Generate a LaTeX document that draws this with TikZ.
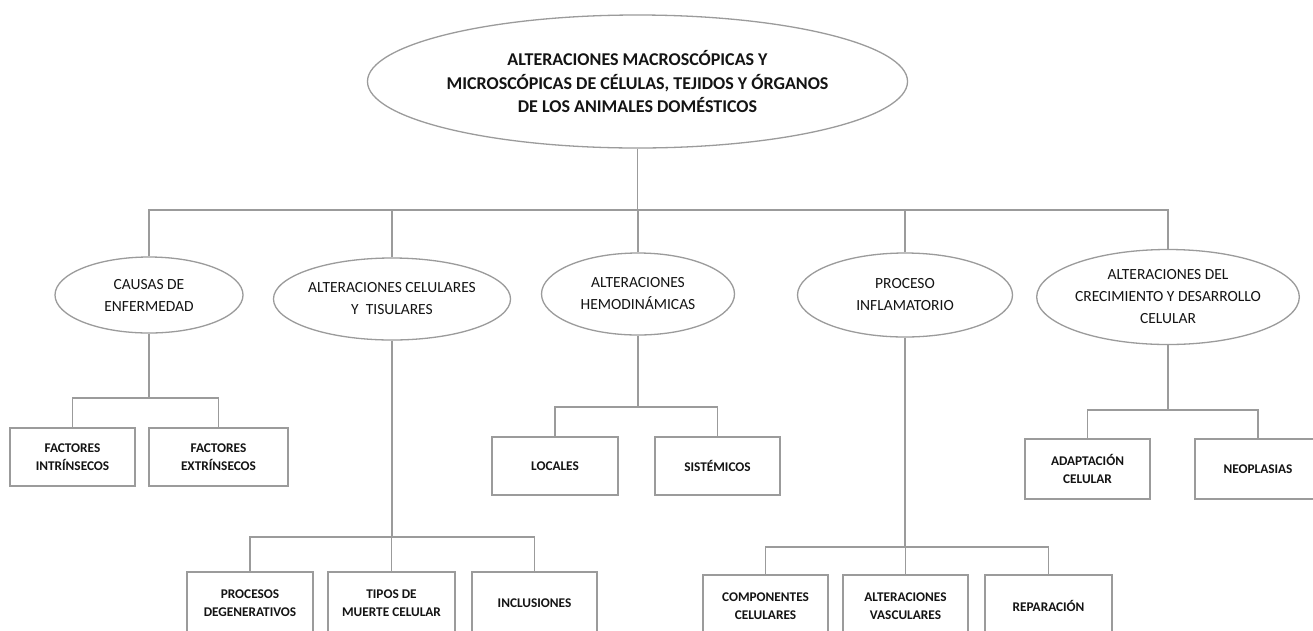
\documentclass[tikz,border=0pt]{standalone}
\usepackage{fontspec}
\setmainfont{Carlito}
\usetikzlibrary{shapes.geometric}
\definecolor{linegray}{RGB}{155,155,155}
\definecolor{txt}{RGB}{20,20,20}
\begin{document}
\begin{tikzpicture}[x=1pt,y=-1pt,
  ell/.style={ellipse, draw=linegray, line width=1.3pt, inner sep=0pt, align=center, text=txt,
    font=\fontsize{15.5}{22}\selectfont},
  mainell/.style={ell, font=\bfseries\fontsize{18}{23.5}\selectfont},
  box/.style={rectangle, draw=linegray, line width=1.3pt, inner sep=0pt, align=center, text=txt,
    font=\bfseries\fontsize{13.3}{18}\selectfont},
  conn/.style={draw=linegray, line width=1.2pt}]
\useasboundingbox (0,0) rectangle (1313,630);
\clip (0,0) rectangle (1313,630);
\fill[white] (0,0) rectangle (1313,630);

% main
\node[mainell, minimum width=535, minimum height=133] (main) at (637.5,81.5)
  {ALTERACIONES MACROSCÓPICAS Y\\MICROSCÓPICAS DE CÉLULAS, TEJIDOS Y ÓRGANOS\\DE LOS ANIMALES DOMÉSTICOS};

% level 2
\node[ell, minimum width=188, minimum height=76] (causas) at (149,295) {CAUSAS DE\\ENFERMEDAD};
\node[ell, minimum width=229, minimum height=82] (altcel) at (392,299) {ALTERACIONES CELULARES\\Y\ \ TISULARES};
\node[ell, minimum width=193, minimum height=82] (hemo) at (638,294) {ALTERACIONES\\HEMODINÁMICAS};
\node[ell, minimum width=215, minimum height=84] (proc) at (905,295) {PROCESO\\INFLAMATORIO};
\node[ell, minimum width=245, minimum height=95] (crec) at (1168,297) {ALTERACIONES DEL\\CRECIMIENTO Y DESARROLLO\\CELULAR};

% level 3
\node[box, minimum width=125, minimum height=58] (fi) at (72.5,457) {FACTORES\\INTRÍNSECOS};
\node[box, minimum width=139, minimum height=58] (fe) at (218.5,457) {FACTORES\\EXTRÍNSECOS};
\node[box, minimum width=126, minimum height=58] (loc) at (555,466) {LOCALES};
\node[box, minimum width=125, minimum height=58] (sis) at (717.5,466) {SISTÉMICOS};
\node[box, minimum width=125, minimum height=60] (adap) at (1087.5,469) {ADAPTACIÓN\\CELULAR};
\node[box, minimum width=126, minimum height=60] (neo) at (1258,469) {NEOPLASIAS};

% level 4
\node[box, minimum width=126, minimum height=62] (pd) at (250,603) {PROCESOS\\DEGENERATIVOS};
\node[box, minimum width=127, minimum height=62] (tm) at (391.5,603) {TIPOS DE\\MUERTE CELULAR};
\node[box, minimum width=125, minimum height=62] (inc) at (534.5,603) {INCLUSIONES};
\node[box, minimum width=125, minimum height=62] (comp) at (765.5,606) {COMPONENTES\\CELULARES};
\node[box, minimum width=125, minimum height=62] (av) at (905.5,606) {ALTERACIONES\\VASCULARES};
\node[box, minimum width=127, minimum height=62] (rep) at (1048.5,606) {REPARACIÓN};

% bar heights
\coordinate (b0) at (0,210);
\coordinate (b1) at (0,398);
\coordinate (b2) at (0,407);
\coordinate (b3) at (0,410);
\coordinate (b4) at (0,537);
\coordinate (b5) at (0,547);

% connectors level 1-2
\draw[conn] (main.south) -- (main.south |- b0);
\draw[conn] (causas.north) -- (causas.north |- b0) -- (crec.north |- b0) -- (crec.north);
\draw[conn] (altcel.north) -- (altcel.north |- b0);
\draw[conn] (hemo.north) -- (hemo.north |- b0);
\draw[conn] (proc.north) -- (proc.north |- b0);

% causas
\draw[conn] (causas.south) -- (causas.south |- b1);
\draw[conn] (fi.north) -- (fi.north |- b1) -- (fe.north |- b1) -- (fe.north);
% hemo
\draw[conn] (hemo.south) -- (hemo.south |- b2);
\draw[conn] (loc.north) -- (loc.north |- b2) -- (sis.north |- b2) -- (sis.north);
% crec
\draw[conn] (crec.south) -- (crec.south |- b3);
\draw[conn] (adap.north) -- (adap.north |- b3) -- (neo.north |- b3) -- (neo.north);
% altcel
\draw[conn] (altcel.south) -- (altcel.south |- b4);
\draw[conn] (pd.north) -- (pd.north |- b4) -- (inc.north |- b4) -- (inc.north);
\draw[conn] (tm.north) -- (tm.north |- b4);
% proc
\draw[conn] (proc.south) -- (proc.south |- b5);
\draw[conn] (comp.north) -- (comp.north |- b5) -- (rep.north |- b5) -- (rep.north);
\draw[conn] (av.north) -- (av.north |- b5);
\end{tikzpicture}
\end{document}
